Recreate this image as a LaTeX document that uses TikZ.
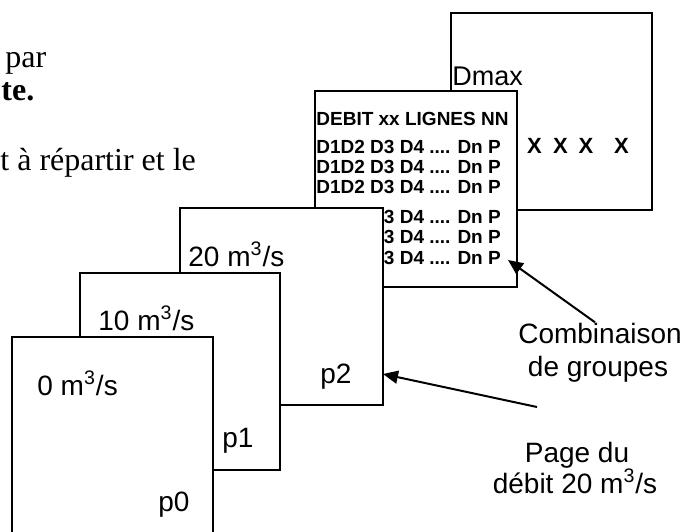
\documentclass[tikz,border=0pt]{standalone}
\usepackage{fontspec}
\setmainfont{Liberation Serif}
\setsansfont{Liberation Sans}
\usetikzlibrary{arrows.meta}

\begin{document}
\begin{tikzpicture}[x=0.5pt,y=-0.5pt,>={Triangle[length=7.5pt,width=6.5pt]},
		page/.style={draw,fill=white,line width=1pt},
		lbl/.style={inner sep=0pt,anchor=base west,font=\sffamily\fontsize{14}{16}\selectfont},
		cmb/.style={inner sep=0pt,anchor=base west,font=\sffamily\bfseries\fontsize{9.5}{11}\selectfont},
		note/.style={inner sep=0pt,anchor=base,font=\sffamily\fontsize{14}{16}\selectfont},
		txt/.style={inner sep=0pt,anchor=base west,font=\fontsize{16}{18}\selectfont}]
		\clip (0,0) rectangle (684,531);
		\fill[white] (0,0) rectangle (684,531);
		% texte du document, coupe a gauche
		\node[txt] (par) at (5,67) {par};
		\node[txt,font=\bfseries\fontsize{16}{18}\selectfont] (te) at (1,100) {te.};
		\node[txt] (repartir) at (0,170) {t à répartir et le};
		% page Dmax
		\draw[page] (451,13) rectangle (652,210);
		\node[lbl,font=\sffamily\fontsize{13.5}{16}\selectfont] (dmax) at (452,85) {Dmax};
		\foreach \x [count=\i] in {534.5,560.5,586,621.5}
			\node[cmb,anchor=base,font=\sffamily\bfseries\fontsize{11}{13}\selectfont] (x\i) at (\x,153) {X};
		% page des combinaisons
		\draw[page] (315,91) rectangle (517,287);
		\node[cmb] (titre) at (316,125.5) {DEBIT xx LIGNES NN};
		\foreach \y [count=\i] in {153.5,173.5,193.5,223.5,243.5,264.5}
			\node[cmb] (ligne\i) at (316,\y) {D1D2 D3 D4 .... Dn P};
		% pages des debits
		\draw[page] (180,208) rectangle (383,405);
		\node[lbl] (q2) at (188,266) {20 m\textsuperscript{3}/s};
		\node[lbl] (p2) at (320,383) {p2};
		\draw[page] (80,273) rectangle (280,470);
		\node[lbl] (q1) at (98,330) {10 m\textsuperscript{3}/s};
		\node[lbl] (p1) at (222,447) {p1};
		\draw[page] (12,337) rectangle (213,560);
		\node[lbl] (q0) at (37,395) {0 m\textsuperscript{3}/s};
		\node[lbl] (p0) at (158,511) {p0};
		% legendes
		\node[note] (comb1) at (600,343) {Combinaison};
		\node[note] (comb2) at (598,376) {de groupes};
		\node[note] (page1) at (577,462) {Page du};
		\node[note] (page2) at (575,493) {débit 20 m\textsuperscript{3}/s};
		\coordinate (combtip) at (508,260);
		\coordinate (pagetip) at (383,374);
		\coordinate (pagefoot) at (537,407);
		\draw[->,line width=1pt] ([xshift=-2.5pt]comb1.north) -- (combtip);
		\draw[->,line width=1pt] (pagefoot) -- (pagetip);
	\end{tikzpicture}
\end{document}
